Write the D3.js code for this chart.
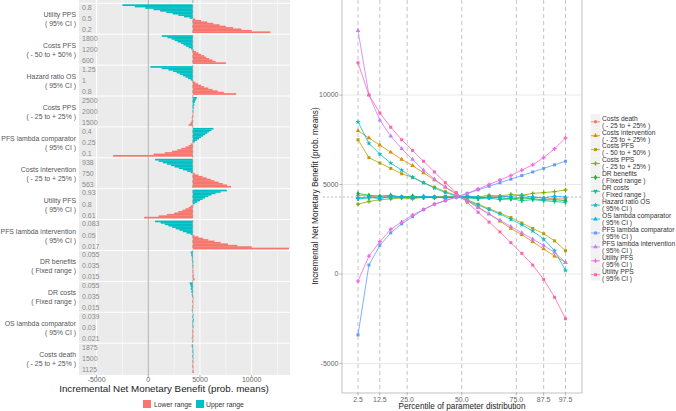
<!DOCTYPE html>
<html><head><meta charset="utf-8">
<script src="https://cdn.jsdelivr.net/npm/d3@7"></script>
<style>body{margin:0;background:#fff}svg{display:block;font-family:"Liberation Sans",Arial,sans-serif}</style>
</head><body><svg id="c" width="676" height="411"></svg>
<script>
// ---------- data ----------
const percentiles = [2.5,7.5,12.5,17.5,22.5,27.5,32.5,37.5,42.5,47.5,52.5,57.5,62.5,67.5,72.5,77.5,82.5,87.5,92.5,97.5];
const percentileTicks = [2.5,12.5,25,50,75,87.5,97.5];
const baseValue = 4300;

// parameters (left panel order, top to bottom)
const paramNames  = ["Utility PPS","Costs PFS","Hazard ratio OS","Costs PPS","PFS lambda comparator","Costs intervention","Utility PFS","PFS lambda intervention","DR benefits","DR costs","OS lambda comparator","Costs death"];
const paramRanges = ["( 95% CI )","( - 50 to + 50% )","( 95% CI )","( - 25 to + 25% )","( 95% CI )","( - 25 to + 25% )","( 95% CI )","( 95% CI )","( Fixed range )","( Fixed range )","( 95% CI )","( - 25 to + 25% )"];
// parameter value labels: [upper, mean, lower]
const paramTickLabels = [
  ["0.8","0.5","0.2"],["1800","1200","600"],["1.25","1","0.8"],["2500","2000","1500"],
  ["0.4","0.25","0.1"],["938","750","563"],["0.93","0.8","0.61"],["0.083","0.05","0.017"],
  ["0.055","0.035","0.015"],["0.055","0.035","0.015"],["0.039","0.03","0.021"],["1875","1500","1125"]];

// INMB at each percentile
const utilityPPS        = [11800,10000,9000,8200,7500,6900,6300,5700,5100,4550,4000,3450,2900,2350,1750,1150,500,-300,-1300,-2500];
const costsPFS          = [7500,6500,6200,5900,5600,5400,5100,4850,4600,4400,4150,3900,3650,3400,3150,2850,2550,2250,1850,1300];
const hazardRatioOS     = [8500,7300,6700,6200,5800,5400,5100,4800,4550,4350,4100,3850,3600,3350,3050,2750,2400,1950,1300,200];
const costsPPS          = [3900,4050,4150,4200,4250,4200,4300,4250,4300,4300,4350,4300,4400,4350,4450,4400,4500,4550,4600,4700];
const pfsLambdaComp     = [-3400,500,1600,2300,2800,3200,3600,3900,4100,4300,4500,4700,4900,5100,5300,5500,5700,5900,6100,6300];
const costsIntervention = [8000,7600,7200,6800,6400,6050,5650,5250,4850,4500,4100,3750,3350,2950,2550,2200,1800,1400,1000,650];
const utilityPFS        = [-400,1000,1800,2500,2900,3300,3600,3900,4100,4300,4500,4750,5000,5250,5500,5800,6100,6500,7000,7600];
const pfsLambdaInt      = [13600,10000,8600,7700,7000,6400,5800,5300,4850,4450,4100,3700,3350,3000,2650,2300,1950,1600,1200,650];
const drBenefits        = [4500,4400,4350,4400,4300,4350,4300,4300,4250,4300,4300,4250,4300,4250,4200,4250,4200,4150,4150,4100];
const drCosts           = [4200,4250,4300,4250,4300,4300,4250,4300,4300,4300,4250,4200,4250,4150,4200,4100,4150,4100,4050,4000];
const osLambdaComp      = [4250,4300,4200,4350,4300,4250,4350,4300,4250,4300,4350,4300,4250,4300,4350,4400,4300,4250,4350,4300];
const costsDeath        = [4400,4350,4300,4350,4300,4250,4300,4300,4350,4300,4300,4250,4300,4350,4300,4250,4300,4250,4200,4200];

const paramValues = [utilityPPS,costsPFS,hazardRatioOS,costsPPS,pfsLambdaComp,costsIntervention,utilityPFS,pfsLambdaInt,drBenefits,drCosts,osLambdaComp,costsDeath];

const xTicksLeft = [-5000,0,5000,10000];
const yTicksRight = [-5000,0,5000,10000];
const rangeLegend = ["Lower range","Upper range"];

// ---------- drawing ----------
const svg = d3.select("#c");
const FONT = 6.9;
const rangeColor = d3.scaleOrdinal().domain(rangeLegend).range(["#F8766D","#00BFC4"]);

// ===== Left panel =====
const L = {x0:79, x1:290, y0:0, y1:375, top:3.3, facetH:30.9};
const xL = d3.scaleLinear().domain([0,10000]).range([148.3,251.7]);
const gL = svg.append("g");
gL.append("rect").attr("x",L.x0).attr("y",L.y0).attr("width",L.x1-L.x0).attr("height",L.y1-L.y0).attr("fill","#EBEBEB");
const gridV = d3.range(-5000,13000,2500);
gL.selectAll("line.gv").data(gridV).join("line")
  .attr("x1",d=>xL(d)).attr("x2",d=>xL(d)).attr("y1",L.y0).attr("y2",L.y1)
  .attr("stroke","#fff").attr("stroke-width",d=>d%5000===0?1:0.5);
gL.selectAll("line.fs").data(d3.range(paramNames.length)).join("line")
  .attr("x1",L.x0).attr("x2",L.x1)
  .attr("y1",i=>L.top+i*L.facetH).attr("y2",i=>L.top+i*L.facetH)
  .attr("stroke","#fff").attr("stroke-width",1);
gL.append("line").attr("x1",xL(0)).attr("x2",xL(0)).attr("y1",L.y0).attr("y2",L.y1)
  .attr("stroke","#9a9a9a").attr("stroke-width",0.8);

paramNames.forEach((name,i)=>{
  const t = L.top + i*L.facetH;
  const yb = d3.scaleBand().domain(percentiles.slice().reverse()).range([t+1,t+29.5]);
  const vals = paramValues[i];
  gL.append("g").selectAll("rect").data(percentiles.map((p,j)=>({p,v:vals[j]}))).join("rect")
    .attr("x",d=>Math.min(xL(baseValue),xL(d.v)))
    .attr("width",d=>Math.max(0.6,Math.abs(xL(d.v)-xL(baseValue))))
    .attr("y",d=>yb(d.p)).attr("height",yb.bandwidth()+0.25)
    .attr("fill",d=>rangeColor(d.p<50?rangeLegend[0]:rangeLegend[1]));
  const lbl = paramTickLabels[i];
  [t+4.3, t+15.5, t+26.5].forEach((yy,k)=>{
    gL.append("text").attr("x",82).attr("y",yy).attr("dy","0.35em")
      .attr("font-size",7).attr("fill","#8c8c8c").text(lbl[k]);
  });
  gL.append("text").attr("x",76).attr("y",t+11.5).attr("dy","0.35em").attr("text-anchor","end")
    .attr("font-size",FONT).attr("fill","#555").text(name);
  gL.append("text").attr("x",76).attr("y",t+20.5).attr("dy","0.35em").attr("text-anchor","end")
    .attr("font-size",FONT).attr("fill","#555").text(paramRanges[i]);
});
gL.append("line").attr("x1",xL(baseValue)).attr("x2",xL(baseValue)).attr("y1",L.y0).attr("y2",L.y1)
  .attr("stroke","#9a9a9a").attr("stroke-width",0.7).attr("stroke-dasharray","3,2");

const axL = gL.append("g");
xTicksLeft.forEach(v=>{
  axL.append("line").attr("x1",xL(v)).attr("x2",xL(v)).attr("y1",L.y1).attr("y2",L.y1+2.5).attr("stroke","#555").attr("stroke-width",0.5);
  axL.append("text").attr("x",xL(v)).attr("y",379.5).attr("dy","0.35em").attr("text-anchor","middle")
    .attr("font-size",7).attr("fill","#666").text(v);
});
gL.append("text").attr("x",164).attr("y",388.5).attr("dy","0.35em").attr("text-anchor","middle")
  .attr("font-size",9.8).attr("fill","#222").text("Incremental Net Monetary Benefit (prob. means)");
const legL = gL.append("g");
[{x:143,tx:154},{x:196,tx:206}].forEach((pos,k)=>{
  legL.append("rect").attr("x",pos.x).attr("y",400).attr("width",8).attr("height",8).attr("fill",rangeColor(rangeLegend[k]));
  legL.append("text").attr("x",pos.tx).attr("y",404.5).attr("dy","0.35em").attr("font-size",6.8)
    .attr("fill","#333").text(rangeLegend[k]);
});

// ===== Right panel =====
const R = {x0:342, x1:582, y0:0, y1:393};
const xR = d3.scaleLinear().domain([2.5,97.5]).range([358,565.5]);
const yR = d3.scaleLinear().domain([0,10000]).range([274,95]);
const gR = svg.append("g");
gR.selectAll("line.hg").data(yTicksRight).join("line")
  .attr("x1",R.x0).attr("x2",R.x1).attr("y1",d=>yR(d)).attr("y2",d=>yR(d))
  .attr("stroke","#e3e3e3").attr("stroke-width",0.8);
gR.selectAll("line.vd").data(percentileTicks).join("line")
  .attr("x1",d=>xR(d)).attr("x2",d=>xR(d)).attr("y1",R.y0).attr("y2",R.y1)
  .attr("stroke","#b5b5b5").attr("stroke-width",0.8).attr("stroke-dasharray","4,3");
gR.append("line").attr("x1",323).attr("x2",581).attr("y1",yR(baseValue)).attr("y2",yR(baseValue))
  .attr("stroke","#a8a8a8").attr("stroke-width",0.8).attr("stroke-dasharray","2,2");
gR.append("line").attr("x1",R.x0).attr("x2",R.x0).attr("y1",R.y0).attr("y2",R.y1).attr("stroke","#b3b3b3").attr("stroke-width",0.8);
gR.append("line").attr("x1",R.x1).attr("x2",R.x1).attr("y1",R.y0).attr("y2",R.y1).attr("stroke","#b3b3b3").attr("stroke-width",0.8);
gR.append("line").attr("x1",R.x0).attr("x2",R.x1).attr("y1",R.y1).attr("y2",R.y1).attr("stroke","#b3b3b3").attr("stroke-width",0.8);
yTicksRight.forEach(v=>{
  gR.append("line").attr("x1",R.x0-2.5).attr("x2",R.x0).attr("y1",yR(v)).attr("y2",yR(v)).attr("stroke","#777").attr("stroke-width",0.5);
  gR.append("text").attr("x",R.x0-3.5).attr("y",yR(v)).attr("dy","0.35em").attr("text-anchor","end")
    .attr("font-size",7).attr("fill","#666").text(v);
});
percentileTicks.forEach(v=>{
  gR.append("line").attr("x1",xR(v)).attr("x2",xR(v)).attr("y1",R.y1).attr("y2",R.y1+2.5).attr("stroke","#777").attr("stroke-width",0.5);
  gR.append("text").attr("x",xR(v)).attr("y",399.5).attr("dy","0.35em").attr("text-anchor","middle")
    .attr("font-size",7).attr("fill","#666").text(d3.format(".1f")(v));
});
gR.append("text").attr("x",462).attr("y",406.3).attr("dy","0.35em").attr("text-anchor","middle")
  .attr("font-size",8.2).attr("fill","#222").text("Percentile of parameter distribution");
gR.append("text").attr("transform","translate(315,196) rotate(-90)").attr("dy","0.35em").attr("text-anchor","middle")
  .attr("font-size",8.3).attr("fill","#222").text("Incremental Net Monetary Benefit (prob. means)");

const alpha = ["Costs death","Costs intervention","Costs PFS","Costs PPS","DR benefits","DR costs","Hazard ratio OS","OS lambda comparator","PFS lambda comparator","PFS lambda intervention","Utility PFS","Utility PPS"];
const hueColors = ["#F8766D","#DE8C00","#B79F00","#7CAE00","#00BA38","#00C08B","#00BFC4","#00B4F0","#619CFF","#C77CFF","#F564E3","#FF64B0"];
const color = d3.scaleOrdinal().domain(alpha).range(hueColors);
const symTypes = [d3.symbolCircle,d3.symbolTriangle,d3.symbolSquare,d3.symbolCross,d3.symbolDiamond,d3.symbolWye,d3.symbolStar,d3.symbolTriangle,d3.symbolSquare,d3.symbolTriangle,d3.symbolCross,d3.symbolSquare];
const shape = d3.scaleOrdinal().domain(alpha).range(symTypes);
const line = d3.line().x(d=>xR(d.p)).y(d=>yR(d.v));
alpha.forEach(name=>{
  const i = paramNames.indexOf(name);
  const pts = percentiles.map((p,j)=>({p,v:paramValues[i][j]}));
  gR.append("path").datum(pts).attr("d",line).attr("fill","none").attr("stroke",color(name)).attr("stroke-width",0.8);
  gR.append("g").selectAll("path").data(pts).join("path")
    .attr("transform",d=>`translate(${xR(d.p)},${yR(d.v)})`)
    .attr("d",d3.symbol().type(shape(name)).size(9)).attr("fill",color(name));
});

const legR = svg.append("g");
alpha.forEach((name,k)=>{
  const i = paramNames.indexOf(name);
  const y1 = 118.3 + k*13.9;
  legR.append("rect").attr("x",590.5).attr("y",y1-4.5).attr("width",10).attr("height",13.9).attr("fill","#F2F2F2");
  legR.append("line").attr("x1",591).attr("x2",600).attr("y1",y1+3.5).attr("y2",y1+3.5).attr("stroke",color(name)).attr("stroke-width",0.8);
  legR.append("path").attr("transform",`translate(595.5,${y1+3.5})`).attr("d",d3.symbol().type(shape(name)).size(9)).attr("fill",color(name));
  legR.append("text").attr("x",602).attr("y",y1).attr("dy","0.35em").attr("font-size",6.7).attr("fill","#333").text(name);
  legR.append("text").attr("x",602).attr("y",y1+7).attr("dy","0.35em").attr("font-size",6.7).attr("fill","#333").text(paramRanges[i]);
});
</script></body></html>
